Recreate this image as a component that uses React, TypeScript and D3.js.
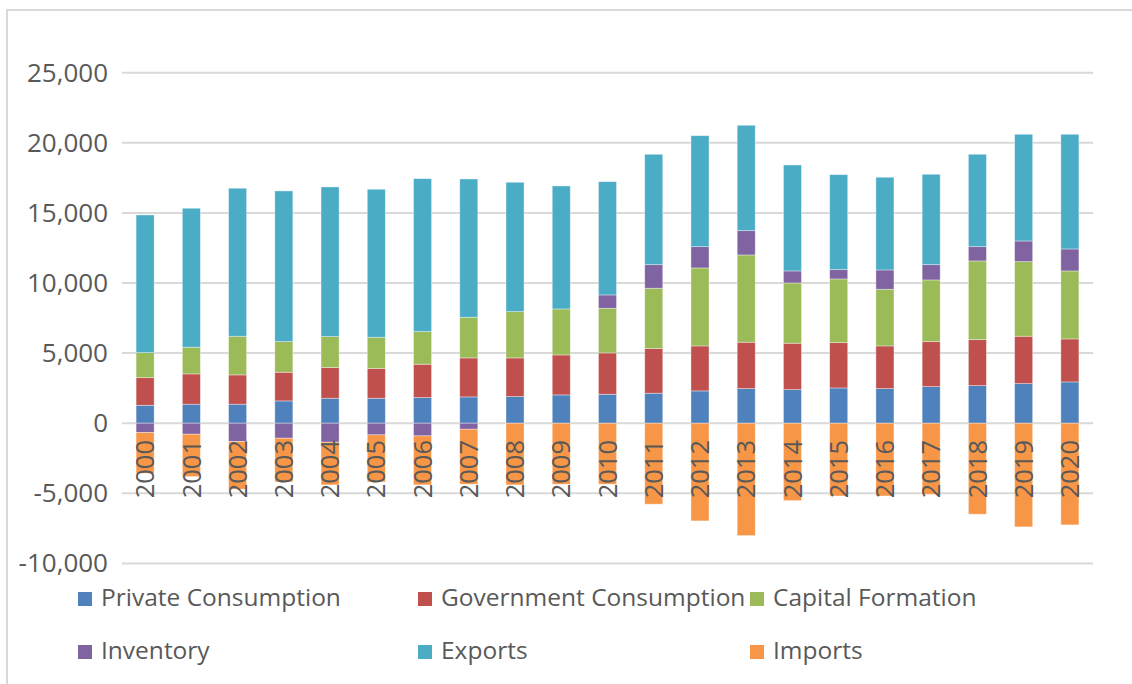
import React from "react";
import * as d3 from "d3";

const years = ["2000","2001","2002","2003","2004","2005","2006","2007","2008","2009","2010","2011","2012","2013","2014","2015","2016","2017","2018","2019","2020"];
const privateConsumption = [1280,1355,1355,1590,1780,1780,1827,1875,1899,2018,2066,2139,2303,2467,2396,2515,2467,2610,2681,2824,2945];
const governmentConsumption = [1970,2160,2090,2045,2187,2116,2379,2783,2759,2852,2947,3181,3209,3309,3308,3232,3045,3208,3280,3380,3066];
const capitalFormation = [1783,1905,2759,2185,2211,2235,2329,2902,3300,3280,3187,4306,5562,6225,4300,4543,4043,4400,5612,5320,4849];
const inventory = [-670,-785,-1310,-1070,-1355,-834,-906,-430,0,0,948,1683,1519,1733,856,663,1376,1091,1020,1475,1569];
const exportsData = [9819,9911,10554,10745,10672,10553,10909,9860,9227,8771,8080,7872,7915,7515,7558,6774,6610,6446,6588,7609,8179];
const importsData = [-2895,-3020,-3396,-3116,-3045,-3352,-3494,-3920,-4400,-4350,-4350,-5776,-6967,-8015,-5519,-5190,-5190,-5070,-6490,-7395,-7252];
const yTicks = [-10000,-5000,0,5000,10000,15000,20000,25000];

const seriesNames = ["Private Consumption","Government Consumption","Capital Formation","Inventory","Exports","Imports"];
const seriesValues = [privateConsumption, governmentConsumption, capitalFormation, inventory, exportsData, importsData];
const colors = ["#4F81BD","#C0504D","#9BBB59","#8064A2","#4BACC6","#F79646"];

const FONT = "'Open Sans', 'DejaVu Sans', sans-serif";
const TEXT = "#595959";

export default function App() {
  const W = 1132, H = 684;
  const x = d3.scaleBand<string>().domain(years).range([122, 1093]).paddingInner(0.61).paddingOuter(0.305);
  const y = d3.scaleLinear().domain([-10000, 25000]).range([563.4, 72.7]);
  const fmt = (v: number) => d3.format(",")(v).replace("\u2212", "-");

  const rows = years.map((yr, i) => {
    const r: any = { year: yr };
    seriesNames.forEach((n, j) => { r[n] = seriesValues[j][i]; });
    return r;
  });
  const stack = d3.stack<any>().keys(seriesNames).offset(d3.stackOffsetDiverging);
  const stacked = stack(rows);

  const legendCols = [78, 418, 750];
  const legendRows = [606, 659];

  return (
    <svg width={W} height={H} style={{ position: "absolute", left: 0, top: 0, background: "#fff" }}>
      <rect x={7} y={10} width={1300} height={1000} fill="#fff" stroke="#d9d9d9" strokeWidth={2} />
      {yTicks.map(t => (
        <g key={t}>
          <line x1={122} x2={1093} y1={y(t)} y2={y(t)} stroke="#d9d9d9" strokeWidth={2} />
          <text x={108} y={y(t) + 9} textAnchor="end" fontFamily={FONT} fontSize={26} fill={TEXT}>
            {fmt(t)}
          </text>
        </g>
      ))}
      {stacked.map((s, si) => (
        <g key={s.key} fill={colors[si]}>
          {s.map((d, i) => {
            const y0 = y(d[0]), y1 = y(d[1]);
            const h = Math.abs(y0 - y1);
            if (h < 0.01) return null;
            return (
              <rect key={i} x={x(years[i])!} width={x.bandwidth()} y={Math.min(y0, y1)} height={h}
                stroke="#ffffff" strokeOpacity={0.45} strokeWidth={0.8} />
            );
          })}
        </g>
      ))}
      {years.map(yr => {
        const cx = x(yr)! + x.bandwidth() / 2;
        return (
          <text key={yr} transform={`translate(${cx},440) rotate(-90)`} textAnchor="end" dy="0.36em"
            fontFamily={FONT} fontSize={25.5} fill={TEXT}>{yr}</text>
        );
      })}
      {seriesNames.map((n, i) => {
        const lx = legendCols[i % 3];
        const ly = legendRows[Math.floor(i / 3)];
        return (
          <g key={n}>
            <rect x={lx} y={ly - 14} width={14} height={14} fill={colors[i]} />
            <text x={lx + 23} y={ly} fontFamily={FONT} fontSize={24.5} fill={TEXT}>{n}</text>
          </g>
        );
      })}
    </svg>
  );
}
